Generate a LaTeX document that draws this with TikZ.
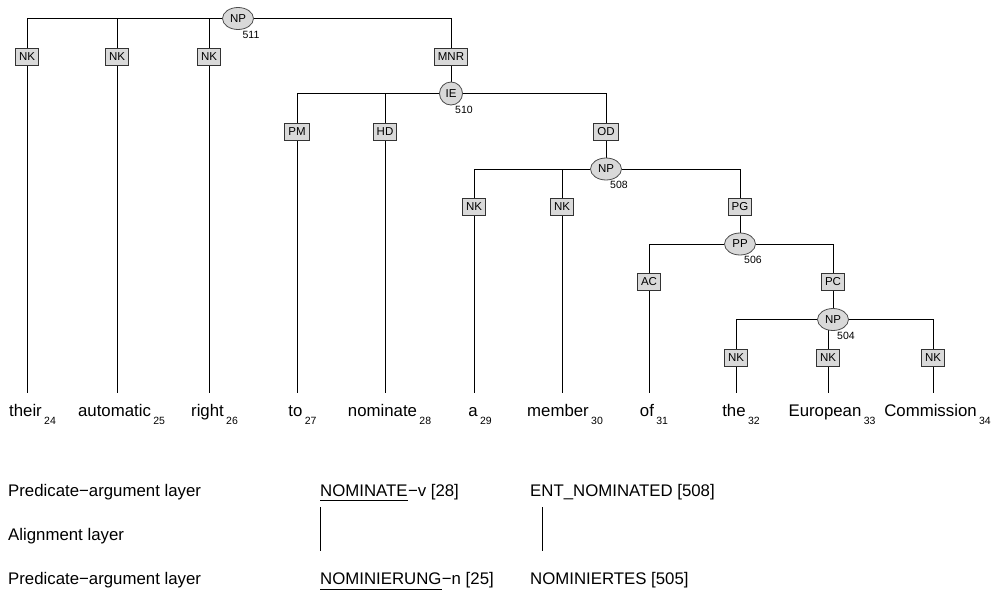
\documentclass[tikz,border=0pt]{standalone}
\usepackage{fontspec}
\setmainfont{Liberation Sans}
\usetikzlibrary{shapes.geometric}
\pgfdeclarelayer{bg}
\pgfsetlayers{bg,main}

\begin{document}
\begin{tikzpicture}[x=1pt,y=-1pt,
  cat/.style={ellipse,draw=black!70,fill=black!15,line width=0.8pt,
    minimum width=31pt,minimum height=22pt,inner sep=0pt,
    font=\fontsize{11.5}{13}\selectfont},
  catc/.style={circle,draw=black!70,fill=black!15,line width=0.8pt,
    minimum size=23pt,inner sep=0pt,font=\fontsize{11.5}{13}\selectfont},
  fn/.style={rectangle,draw=black!80,fill=black!15,line width=0.9pt,
    minimum height=17pt,inner xsep=3.5pt,inner ysep=0pt,
    font=\fontsize{11.5}{13}\selectfont},
  idx/.style={inner sep=0pt,font=\fontsize{10.5}{12}\selectfont},
  word/.style={anchor=base,inner sep=0pt,text height=23pt,text depth=3pt,
    font=\fontsize{16.8}{20}\selectfont},
  sub/.style={anchor=base west,inner sep=0pt,font=\fontsize{10.5}{12}\selectfont},
  txt/.style={anchor=base west,inner sep=0pt,font=\fontsize{16.8}{20}\selectfont},
  edge/.style={line width=0.8pt,black}
]
\useasboundingbox (0,0) rectangle (997,592);

% ---- category nodes
\node[cat]  (np511) at (238,18.5) {NP};
\node[catc] (ie510) at (451,93.5) {IE};
\node[cat]  (np508) at (606,169) {NP};
\node[cat]  (pp506) at (740,244) {PP};
\node[cat]  (np504) at (833,319.5) {NP};

\node[idx] (l511) at ([xshift=13pt,yshift=-16pt]np511.center) {511};
\node[idx] (l510) at ([xshift=13pt,yshift=-16pt]ie510.center) {510};
\node[idx] (l508) at ([xshift=13pt,yshift=-16pt]np508.center) {508};
\node[idx] (l506) at ([xshift=13pt,yshift=-16pt]pp506.center) {506};
\node[idx] (l504) at ([xshift=13pt,yshift=-16pt]np504.center) {504};

% ---- function labels
\node[fn] (f1)  at (27,56.5)  {NK};
\node[fn] (f2)  at (117,56.5) {NK};
\node[fn] (f3)  at (209,56.5) {NK};
\node[fn] (f4)  at (451,56.5) {MNR};
\node[fn] (f5)  at (297,131.5) {PM};
\node[fn] (f6)  at (385,131.5) {HD};
\node[fn] (f7)  at (606,131.5) {OD};
\node[fn] (f8)  at (474,207) {NK};
\node[fn] (f9)  at (562,207) {NK};
\node[fn] (f10) at (740,207) {PG};
\node[fn] (f11) at (649,282) {AC};
\node[fn] (f12) at (833,282) {PC};
\node[fn] (f13) at (736,357.5) {NK};
\node[fn] (f14) at (828,357.5) {NK};
\node[fn] (f15) at (933,357.5) {NK};

% ---- terminals with their indices
\node[word] (w24) at (25.5,416) {their};
\node[word] (w25) at (114.5,416) {automatic};
\node[word] (w26) at (207.5,416) {right};
\node[word] (w27) at (295.5,416) {to};
\node[word] (w28) at (382.5,416) {nominate};
\node[word] (w29) at (473,416) {a};
\node[word] (w30) at (558,416) {member};
\node[word] (w31) at (647,416) {of};
\node[word] (w32) at (734,416) {the};
\node[word] (w33) at (825,416) {European};
\node[word] (w34) at (930.5,416) {Commission};

\foreach \w in {24,...,34}
  \node[sub] (s\w) at ([xshift=2pt,yshift=-8.3pt]w\w.base east) {\w};

% ---- tree edges
\begin{pgfonlayer}{bg}
\foreach \c in {f1,f2,f3,f4} \draw[edge] (np511) -| (\c);
\draw[edge] (f4) -- (ie510);
\foreach \c in {f5,f6,f7} \draw[edge] (ie510) -| (\c);
\draw[edge] (f7) -- (np508);
\foreach \c in {f8,f9,f10} \draw[edge] (np508) -| (\c);
\draw[edge] (f10) -- (pp506);
\foreach \c in {f11,f12} \draw[edge] (pp506) -| (\c);
\draw[edge] (f12) -- (np504);
\foreach \c in {f13,f14,f15} \draw[edge] (np504) -| (\c);
\foreach \f/\w in {f1/w24,f2/w25,f3/w26,f5/w27,f6/w28,f8/w29,f9/w30,f11/w31,f13/w32,f14/w33,f15/w34}
  \draw[edge] (\f) -- (\f |- \w.north);
\end{pgfonlayer}

% ---- layers below the tree
\node[txt] (la1) at (8,496) {Predicate−argument layer};
\node[txt] (la2) at (8,540) {Alignment layer};
\node[txt] (la3) at (8,584) {Predicate−argument layer};

\node[txt] (pa) at (320,496) {NOMINATE};
\node[txt] (pa2) at (pa.base east) {−v [28]};
\node[txt] (pb) at (530,496) {ENT\_NOMINATED [508]};
\node[txt] (qa) at (320,584) {NOMINIERUNG};
\node[txt] (qa2) at (qa.base east) {−n [25]};
\node[txt] (qb) at (530,584) {NOMINIERTES [505]};

\draw[edge] ([yshift=-4pt]pa.base west) -- ([yshift=-4pt]pa.base east);
\draw[edge] ([yshift=-5pt]qa.base west) -- ([yshift=-5pt]qa.base east);
\draw[edge] ([xshift=0.7pt,yshift=-11pt]pa.base west) -- ([xshift=0.7pt,yshift=33pt]qa.base west);
\draw[edge] ([xshift=12.3pt,yshift=-11pt]pb.base west) -- ([xshift=12.3pt,yshift=33pt]qb.base west);
\end{tikzpicture}
\end{document}
